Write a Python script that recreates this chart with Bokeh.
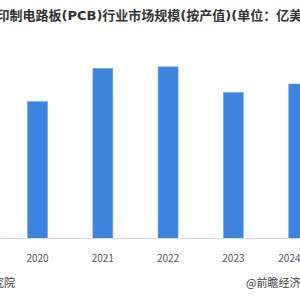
from bokeh.plotting import figure
from bokeh.models import ColumnDataSource, Range1d, FixedTicker, Title
from bokeh.embed import file_html
from bokeh.resources import INLINE

years = ["2020", "2021", "2022", "2023", "2024"]
values = [652.19, 809.20, 817.40, 695.20, 735.65]
idx = list(range(len(years)))

title_text = "印制电路板(PCB)行业市场规模(按产值)(单位：亿美元)"
source_text = "资料来源：Prismark 前瞻产业研究院"
brand_text = "@前瞻经济学人"

src = ColumnDataSource(dict(x=idx, top=values))

font = "Noto Sans CJK SC"

p = figure(width=300, height=300, output_backend="svg", toolbar_location=None,
           x_range=Range1d(-0.567, 4.028), y_range=Range1d(0, 1009),
           min_border_left=0, min_border_right=0, min_border_top=26, min_border_bottom=62)
p.outline_line_color = None
p.background_fill_color = "white"
p.border_fill_color = "white"
p.grid.visible = False
p.yaxis.visible = False

p.title.text = title_text
p.title.align = "left"
p.title.offset = -4
p.title.standoff = 8
p.title.text_font = "DejaVu Sans, Noto Sans CJK SC"
p.title.text_font_size = "13px"
p.title.text_font_style = "bold"
p.title.text_color = "#333333"

p.vbar(x="x", top="top", width=0.306, bottom=0, source=src,
       fill_color="#3d84df", line_color="#6fa3e6", line_width=0.6)

ax = p.xaxis[0]
ax.ticker = FixedTicker(ticks=idx)
ax.major_label_overrides = {i: y for i, y in zip(idx, years)}
ax.axis_line_color = "#d9d9d9"
ax.axis_line_width = 1
ax.major_tick_line_color = None
ax.minor_tick_line_color = None
ax.major_label_standoff = 9
ax.major_label_text_font = font
ax.major_label_text_font_size = "10px"
ax.major_label_text_color = "#595959"

gap = "\u3000" * 21
foot = Title(text=source_text + gap + brand_text, align="left", offset=-166,
             text_font=font, text_font_size="11px", text_font_style="normal",
             text_color="#404040", standoff=15)
p.add_layout(foot, "below")

open("out.html", "w").write(file_html(p, INLINE))
